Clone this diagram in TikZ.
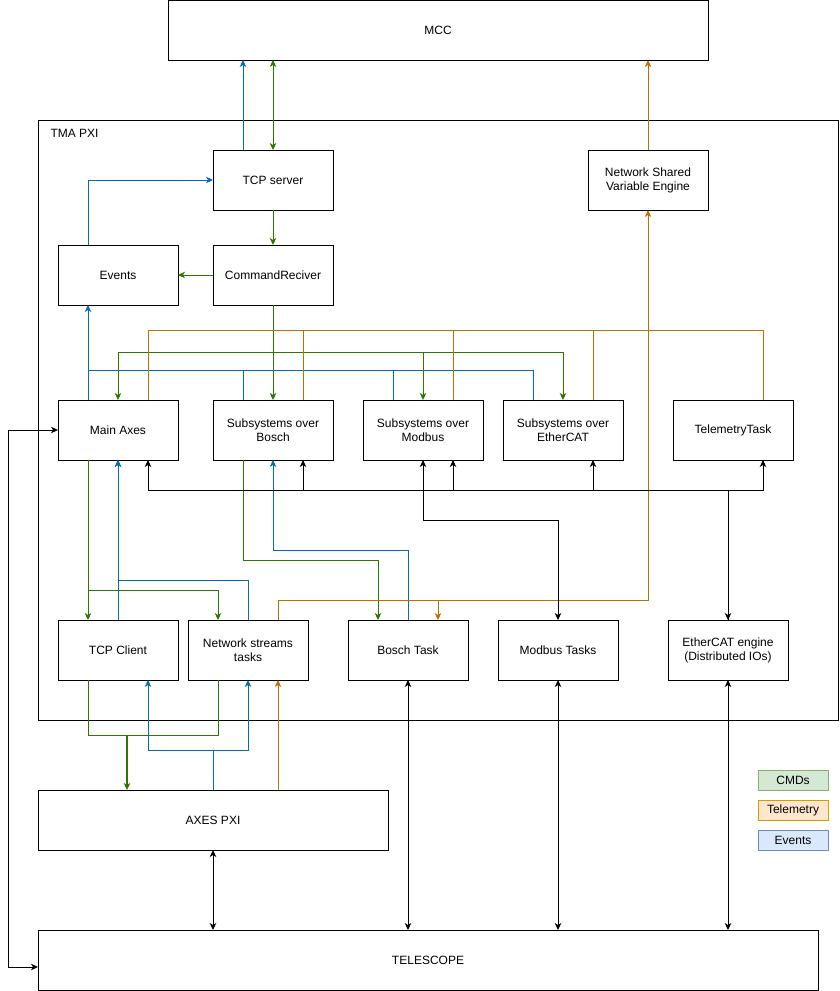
\documentclass[tikz,border=0pt]{standalone}
\usepackage{fontspec}
\setmainfont{Liberation Sans}
\usetikzlibrary{arrows.meta, positioning, calc}
\definecolor{cmdgreen}{HTML}{2D7600}
\definecolor{evtblue}{HTML}{006EAF}
\definecolor{tlmorange}{HTML}{BD7000}
\definecolor{cmdfill}{HTML}{D5E8D4}
\definecolor{cmdline}{HTML}{82B366}
\definecolor{tlmfill}{HTML}{FFE6CC}
\definecolor{tlmline}{HTML}{D79B00}
\definecolor{evtfill}{HTML}{DAE8FC}
\definecolor{evtline}{HTML}{6C8EBF}
\tikzstyle{block} = [rectangle, draw, outer sep=0pt, minimum width=120pt,
                     minimum height=60pt, align=center, font=\fontsize{12}{14}\selectfont]
\tikzstyle{legend} = [rectangle, draw, outer sep=0pt, minimum width=70pt,
                      minimum height=20pt, font=\fontsize{12}{14}\selectfont]
\tikzstyle{cmd} = [draw=cmdgreen]
\tikzstyle{evt} = [draw=evtblue]
\tikzstyle{tlm} = [draw=tlmorange]

\begin{document}
\begin{tikzpicture}
    [x=1pt, y=-1pt, line width=1pt, >={Stealth[length=7pt,width=6.5pt,inset=2pt]}]
    \useasboundingbox (0,0) rectangle (839,991);

    %% Outside
    \node [block, minimum width=540pt] (mcc) at (438,30) {MCC};
    \node [block, minimum width=800pt, minimum height=600pt] (tma) at (438,420) {};
    \node [anchor=west, inner sep=0pt, font=\fontsize{12}{14}\selectfont] (tmalabel) at (50,133) {TMA PXI};

    %% TMA PXI
    \node [block] (tcpserver) at (273,180) {TCP server};
    \node [block, below=35pt of tcpserver] (cmdrecv) {CommandReciver};
    \node [block, left=35pt of cmdrecv] (events) {Events};
    \node [block] (nsve) at (648,180) {Network Shared \\ Variable Engine};

    \node [block] (main) at (118,430) {Main Axes};
    \node [block, right=35pt of main] (subbosch) {Subsystems over \\ Bosch};
    \node [block, right=30pt of subbosch] (submodbus) {Subsystems over \\ Modbus};
    \node [block, right=20pt of submodbus] (subecat) {Subsystems over \\ EtherCAT};
    \node [block, right=50pt of subecat] (telem) {TelemetryTask};

    \node [block, below=160pt of main] (tcpclient) {TCP Client};
    \node [block, right=10pt of tcpclient] (netstreams) {Network streams \\ tasks};
    \node [block, right=40pt of netstreams] (boschtask) {Bosch Task};
    \node [block, right=30pt of boschtask] (modbustasks) {Modbus Tasks};
    \node [block, right=50pt of modbustasks] (ecatengine) {EtherCAT engine \\ (Distributed IOs)};

    %% Below
    \node [block, minimum width=350pt] (axes) at (213,820) {AXES PXI};
    \node [block, minimum width=780pt] (telescope) at (428,960) {TELESCOPE};

    %% Legend
    \node [legend, draw=cmdline, fill=cmdfill] (lcmd) at (793,780) {CMDs};
    \node [legend, draw=tlmline, fill=tlmfill, below=10pt of lcmd] (ltlm) {Telemetry};
    \node [legend, draw=evtline, fill=evtfill, below=10pt of ltlm] (levt) {Events};

    \coordinate (cmdbus) at (273,352);
    \coordinate (evtbus) at (88,370);
    \coordinate (cmdjoin) at (127,735);

    %% Draw CMDs
    \draw [cmd, <->] (tcpserver.north) -- (tcpserver.north |- mcc.south);
    \draw [cmd, ->] (tcpserver) -- (cmdrecv);
    \draw [cmd, ->] (cmdrecv) -- (events);
    \draw [cmd, ->] (cmdrecv) -- (subbosch);
    \foreach \n in {main, submodbus, subecat}
        \draw [cmd, ->] (cmdbus) -| (\n.north);
    \draw [cmd, ->] ([xshift=-30pt]main.south) -- ([xshift=-30pt]tcpclient.north);
    \draw [cmd, ->] ([xshift=-30pt]main.south) -- ++(0,130) -| ([xshift=-30pt]netstreams.north);
    \draw [cmd, ->] ([xshift=-30pt]subbosch.south) -- ++(0,100) -| ([xshift=-30pt]boschtask.north);
    \draw [cmd] ([xshift=-30pt]tcpclient.south) -- ++(0,55) -| ([xshift=-30pt]netstreams.south);
    \draw [cmd, ->, line width=1.5pt] (cmdjoin) -- (cmdjoin |- axes.north);

    %% Draw Events
    \draw [evt, ->] ($(tcpserver.north)+(-30,0)$) -- ($(tcpserver.north |- mcc.south)+(-30,0)$);
    \draw [evt, ->] ([xshift=-30pt]events.north) |- (tcpserver.west);
    \draw [evt, ->] ([xshift=-30pt]main.north) -- ([xshift=-30pt]events.south);
    \foreach \n in {subbosch, submodbus, subecat}
        \draw [evt] ([xshift=-30pt]\n.north) |- (evtbus);
    \draw [evt, ->] (tcpclient.north) -- (main.south);
    \draw [evt, ->] (netstreams.north) -- ++(0,-40) -| (main.south);
    \draw [evt, ->] (boschtask.north) -- ++(0,-70) -| (subbosch.south);
    \draw [evt, ->] (axes.north) -- ++(0,-40) -| ([xshift=30pt]tcpclient.south);
    \draw [evt, ->] (axes.north) -- ++(0,-40) -| (netstreams.south);

    %% Draw Telemetry
    \draw [tlm, ->] (nsve) -- (nsve.north |- mcc.south);
    \draw [tlm] ([xshift=30pt]main.north) -- ++(0,-70) -| ([xshift=30pt]telem.north);
    \foreach \n in {subbosch, submodbus, subecat}
        \draw [tlm] ([xshift=30pt]\n.north) -- ++(0,-70);
    \draw [tlm, ->] ([xshift=30pt]netstreams.north) -- ++(0,-20) -| (nsve.south);
    \draw [tlm, ->] ([xshift=30pt]netstreams.north) -- ++(0,-20) -| ([xshift=30pt]boschtask.north);
    \draw [tlm, ->] ($(netstreams.south |- axes.north)+(30,0)$) -- ([xshift=30pt]netstreams.south);

    %% Draw IOs
    \draw [<-] (ecatengine.north) -- ++(0,-130);
    \foreach \n in {main, subbosch, submodbus, subecat, telem}
        \draw [->] (ecatengine.north) -- ++(0,-130) -| ([xshift=30pt]\n.south);
    \draw [<->] (submodbus.south) -- ++(0,60) -| (modbustasks.north);
    \foreach \n in {axes, boschtask, modbustasks, ecatengine}
        \draw [<->] (\n.south) -- (\n.south |- telescope.north);
    \draw [<->] (main.west) -- ++(-50,0) |- ([yshift=-7pt]telescope.west);

\end{tikzpicture}
\end{document}
